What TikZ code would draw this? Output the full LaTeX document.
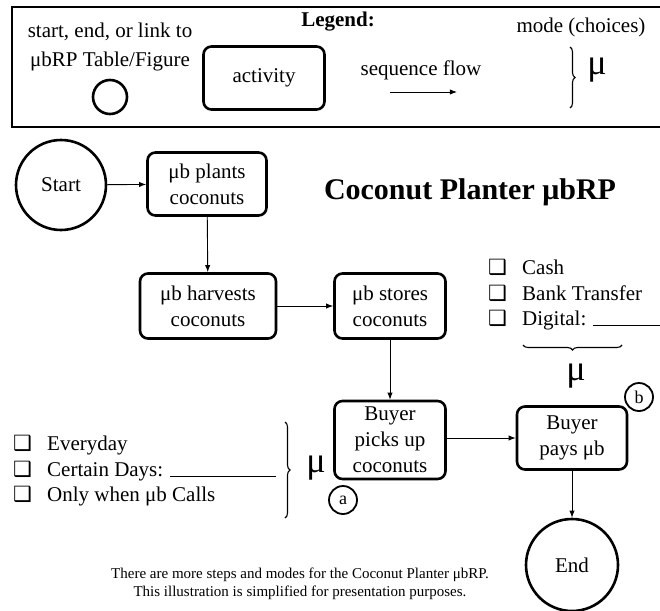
\documentclass[tikz,border=0pt]{standalone}
\usepackage{fontspec}
\setmainfont{Liberation Serif}
\newfontfamily\symfont{DejaVu Sans}
\usetikzlibrary{arrows.meta,positioning,decorations.pathreplacing}
\newcommand{\chk}{\makebox[34pt][l]{\symfont\char"2751}}

\begin{document}
\begin{tikzpicture}[x=1pt, y=-1pt, >=Latex,
    activity/.style={draw, line width=2.6pt, rounded corners=8pt, align=center, inner sep=0pt, font=\fontsize{21}{26}\selectfont},
    endpoint/.style={draw, circle, line width=2.6pt, inner sep=0pt, font=\fontsize{21}{26}\selectfont},
    marker/.style={draw, circle, line width=1.8pt, minimum size=28pt, inner sep=0pt, font=\fontsize{18}{20}\selectfont},
    flow/.style={->, line width=0.9pt},
    choices/.style={anchor=west, align=left, inner sep=0pt, font=\fontsize{21}{25.5}\selectfont},
    modebrace/.style={decorate, decoration={brace, amplitude=5pt}, line width=1.1pt},
    mu/.style={font=\fontsize{36}{36}\selectfont},
    lgtext/.style={font=\fontsize{21}{29}\selectfont}]
    \useasboundingbox (0,0) rectangle (660,610);

    % legend
    \draw [line width=2.8pt] (12,7) rectangle (664,127);
    \node [lgtext, font=\fontsize{21}{24}\selectfont\bfseries] (legend) at (338,22) {Legend:};
    \node [lgtext, align=center] (lgstart) at (110,47) {start, end, or link to\\μbRP Table/Figure};
    \node [draw, circle, line width=2.6pt, minimum size=34pt, inner sep=0pt] (lgcircle) at (110,97) {};
    \node [activity, minimum width=121pt, minimum height=63pt] (lgact) at (264,78) {activity};
    \node [lgtext] (lgflow) at (421,70) {sequence flow};
    \coordinate (lgfrom) at (390,92);
    \coordinate (lgto) at (457,92);
    \draw [flow] (lgfrom) -- (lgto);
    \node [lgtext] (lgmode) at (581,27) {mode (choices)};
    \draw [modebrace] (570,47) -- (570,108);
    \node [mu] (lgmu) at (597,70) {μ};

    % title
    \node [font=\fontsize{30}{34}\selectfont\bfseries] (title) at (470,192) {Coconut Planter μbRP};

    % flow
    \node [endpoint, minimum size=90pt] (start) at (61,185) {Start};
    \node [activity, minimum width=119pt, minimum height=63pt] (plants) at (207,184) {μb plants\\coconuts};
    \node [activity, minimum width=136pt, minimum height=65pt] (harvests) at (208,306) {μb harvests\\coconuts};
    \node [activity, minimum width=111pt, minimum height=65pt] (stores) at (390,306) {μb stores\\coconuts};
    \node [activity, minimum width=111pt, minimum height=78pt] (picks) at (390,440) {Buyer\\picks up\\coconuts};
    \node [activity, minimum width=110pt, minimum height=63pt] (pays) at (572,438) {Buyer\\pays μb};
    \node [endpoint, minimum size=92pt] (end) at (572,565) {End};
    \node [marker] (ma) at (343,500) {a};
    \node [marker] (mb) at (639,397) {b};

    \draw [flow] (start) -- (plants);
    \draw [flow] (plants) -- (harvests);
    \draw [flow] (harvests) -- (stores);
    \draw [flow] (stores) -- (picks);
    \draw [flow] (picks.east |- pays.west) -- (pays.west);
    \draw [flow] (pays) -- (end);

    % modes of payment
    \node [choices] (paylist) at (488,295) {\chk Cash\\\chk Bank Transfer\\\chk Digital: \rule{70pt}{0.8pt}};
    \draw [modebrace] (622,345) -- (523,345);
    \node [mu] (paymu) at (576,376) {μ};

    % modes of pick up
    \node [choices] (picklist) at (13,471) {\chk Everyday\\\chk Certain Days: \rule{106pt}{0.8pt}\\\chk Only when μb Calls};
    \draw [modebrace] (285,422) -- (285,518);
    \node [mu] (pickmu) at (316,468) {μ};

    % note
    \node [align=center, font=\fontsize{15}{18}\selectfont] (note) at (300,584) {There are more steps and modes for the Coconut Planter μbRP.\\This illustration is simplified for presentation purposes.};
\end{tikzpicture}
\end{document}
